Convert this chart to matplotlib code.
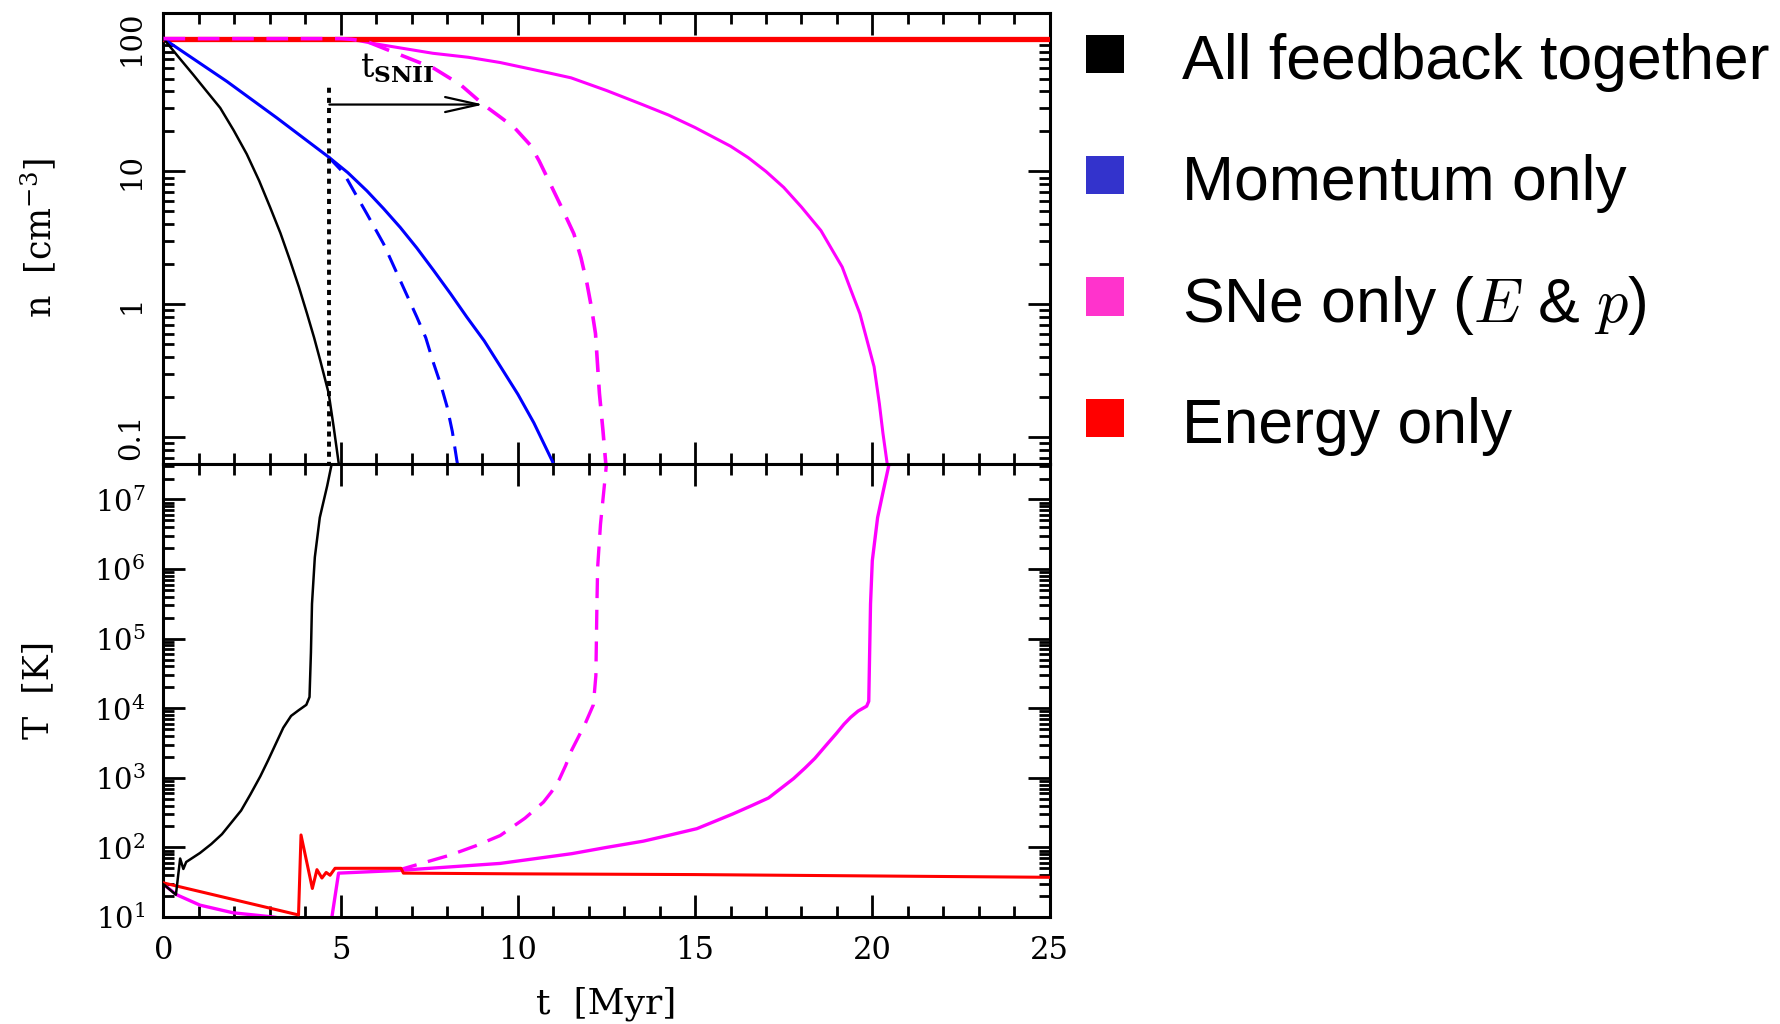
#!/usr/bin/env python3
"""
Density and temperature evolution of a gas cloud for different feedback runs
(top: n, bottom: T), with a colour-square legend on the right.
"""
import matplotlib
matplotlib.use('Agg')
import matplotlib.pyplot as plt
from matplotlib.patches import Rectangle
from matplotlib.ticker import MultipleLocator, LogLocator, NullFormatter
import numpy as np

plt.rcParams['font.family'] = 'DejaVu Serif'
plt.rcParams['mathtext.fontset'] = 'dejavuserif'

# ============================================================================
# Data: density n [cm^-3] vs time [Myr]
# ============================================================================
t_all_n = [0, 0.4, 0.84, 1.2, 1.6, 1.98, 2.35, 2.7, 3.01, 3.3, 3.57, 3.82, 4.05, 4.25, 4.42,
           4.66, 4.80, 4.94, 4.97]
n_all = [100, 74, 53.5, 40.7, 30.1, 20.4, 13.5, 8.5, 5.36, 3.43, 2.14, 1.35, 0.85, 0.56, 0.38,
         0.214, 0.12, 0.0646, 0.056]

t_mom_n = [0, 1.79, 3.2, 4.65, 5.2, 5.74, 6.21, 6.68, 7.15, 7.62, 8.1, 8.56, 9.05, 9.51, 10.0,
           10.45, 10.97, 11.03]
n_mom = [100, 47.6, 25.3, 12.9, 9.8, 7.14, 5.25, 3.79, 2.65, 1.80, 1.20, 0.80, 0.53, 0.339,
         0.21, 0.128, 0.066, 0.060]

t_mom_n_dash = [4.65, 5.08, 5.4, 5.74, 6.21, 6.68, 7.15, 7.4, 7.62, 7.82, 8.0, 8.15, 8.28, 8.31]
n_mom_dash = [12.9, 9.77, 6.9, 4.79, 2.85, 1.51, 0.80, 0.56, 0.36, 0.25, 0.17, 0.11, 0.066, 0.060]

t_sne_n = [0, 5.0, 5.5, 6.0, 7.6, 8.6, 9.5, 10.9, 11.5, 12.5, 13.5, 14.25, 15.0, 16.0, 16.5,
           17.0, 17.5, 18.0, 18.55, 18.9, 19.15, 19.4, 19.65, 19.85, 20.05, 20.2, 20.3, 20.42, 20.45]
n_sne = [100, 100, 96.6, 91.2, 77.6, 72.4, 66.1, 55.0, 50.7, 40.7, 32.0, 26.6, 21.4, 15.5, 12.7,
         10.0, 7.59, 5.4, 3.59, 2.48, 1.91, 1.27, 0.85, 0.537, 0.339, 0.178, 0.107, 0.063, 0.056]

t_sne_n_dash = [0, 5.0, 5.3, 5.74, 6.68, 7.62, 8.38, 9.03, 9.45, 9.9, 10.35, 10.6, 10.92, 11.25,
                11.58, 11.78, 11.95, 12.08, 12.19, 12.3, 12.4, 12.48, 12.5]
n_sne_dash = [100, 100, 98.9, 95.1, 75.5, 60.0, 45.0, 31.8, 26.3, 21.4, 15.8, 12.0, 8.0, 5.25,
              3.39, 2.24, 1.43, 0.93, 0.60, 0.214, 0.112, 0.063, 0.056]

t_energy_n = [0, 25]
n_energy = [100, 100]

# ============================================================================
# Data: temperature T [K] vs time [Myr]
# ============================================================================
t_all_T = [0, 0.35, 0.47, 0.56, 0.64, 1.03, 1.35, 1.65, 2.19, 2.45, 2.73, 2.95, 3.16, 3.38,
           3.6, 3.81, 4.03, 4.12, 4.16, 4.19, 4.27, 4.41, 4.62, 4.77]
T_all = [29.5, 20.9, 69.2, 49.0, 61.7, 83.2, 112, 155, 339, 575, 1047, 1778, 3020, 5250,
         7760, 9330, 11200, 14500, 63100, 3.16e5, 1.48e6, 5.5e6, 1.58e7, 3.72e7]

t_sne_T = [0, 0.37, 1.03, 1.96, 3.1, 3.6, 4.74, 4.94, 6.68, 9.5, 11.52, 12.5, 13.54, 14.3,
           15.05, 16.06, 16.55, 17.07, 17.45, 17.78, 18.1, 18.38, 18.7, 18.99, 19.2, 19.39,
           19.6, 19.84, 19.9, 19.95, 20.0, 20.15, 20.3, 20.5]
T_sne = [29.5, 20.9, 14.8, 11.5, 10.0, 9.1, 9.1, 42.7, 46.8, 58.9, 81.3, 100, 123, 151,
         186, 302, 389, 513, 724, 977, 1380, 1905, 2951, 4365, 5888, 7413,
         9120, 10700, 12600, 3.16e5, 1.32e6, 5.5e6, 1.26e7, 3.72e7]

t_sne_T_dash = [6.6, 8.09, 8.8, 9.5, 10.2, 10.72, 10.95, 11.17, 11.35, 11.52, 11.72, 11.9,
                12.13, 12.2, 12.23, 12.25, 12.33, 12.48, 12.51]
T_sne_dash = [46.8, 77.6, 105, 148, 263, 447, 631, 955, 1514, 2512, 3981, 6026,
              11220, 29510, 3.16e5, 1.05e6, 4.37e6, 2.57e7, 3.72e7]

t_energy_T = [0, 3.81, 3.88, 4.2, 4.33, 4.47, 4.59, 4.70, 4.84, 6.7, 6.77, 10, 15, 20, 25]
T_energy = [30.9, 10.7, 151, 25.7, 47.9, 36.3, 43.7, 39.8, 50.1, 50.1, 42.7, 41.7, 40.7, 38.9, 37.2]

# SN II onset marker
t_snii = 4.68

# Legend
legend_labels = ['All feedback together', 'Momentum only',
                 r'SNe only ($E$ & $p$)', 'Energy only']
legend_colors = ['#000000', '#3333CC', '#FF33CC', '#FF0000']

# ============================================================================
# Figure layout (pixel based)
# ============================================================================
W, H = 1781, 1024
fig = plt.figure(figsize=(W / 100, H / 100), dpi=100)


def fx(px):
    return px / W


def fy(py):
    return 1 - py / H


left, right = 163.5, 1049.5
ax_n = fig.add_axes([fx(left), fy(464), fx(right) - fx(left), fy(13) - fy(464)])
ax_T = fig.add_axes([fx(left), fy(917), fx(right) - fx(left), fy(464) - fy(917)])

for ax in (ax_n, ax_T):
    ax.set_xlim(0, 25)
    ax.set_yscale('log')
    ax.xaxis.set_major_locator(MultipleLocator(5))
    ax.xaxis.set_minor_locator(MultipleLocator(1))
    ax.yaxis.set_minor_locator(LogLocator(base=10, subs=np.arange(2, 10), numticks=30))
    ax.yaxis.set_minor_formatter(NullFormatter())
    ax.tick_params(which='both', direction='in', top=True, right=True, width=2)
    ax.tick_params(which='major', length=16)
    ax.tick_params(which='minor', length=8)
    for s in ax.spines.values():
        s.set_linewidth(2.2)

dash = (6, 3.5)

# ---- density panel ----
ax_n.plot(t_sne_n, n_sne, color='#FF00FF', lw=2.2, zorder=2)
ax_n.plot(t_energy_n, n_energy, color='#FF0000', lw=3.8, zorder=3)
ax_n.plot(t_sne_n_dash, n_sne_dash, color='#FF00FF', lw=2.6, dashes=dash, zorder=4)
ax_n.plot(t_mom_n, n_mom, color='#0000FF', lw=2.2, zorder=3)
ax_n.plot(t_mom_n_dash, n_mom_dash, color='#0000FF', lw=2.2, dashes=dash, zorder=3)
ax_n.plot(t_all_n, n_all, color='black', lw=1.8, zorder=3)

ax_n.set_ylim(0.0627, 156)
ax_n.set_yticks([0.1, 1, 10, 100], labels=['0.1', '1', '10', '100'])
ax_n.tick_params(axis='y', which='major', labelsize=21, pad=13, labelrotation=90)
for lbl in ax_n.get_yticklabels():
    lbl.set_va('center')
ax_n.tick_params(axis='x', labelbottom=False)

# t_SNII marker: dotted line plus arrow
ax_n.vlines(t_snii, 0.05, 46.3, colors='black', lw=2.8, linestyles=(0, (1.3, 1.3)), zorder=5)
ax_n.annotate('', xy=(9.03, 31.9), xytext=(t_snii, 31.9),
              arrowprops=dict(arrowstyle='->,head_length=1.2,head_width=0.27',
                              lw=1.6, color='black', mutation_scale=20,
                              shrinkA=0, shrinkB=0))
ax_n.text(5.55, 50.7, r'$\mathrm{t}_{\mathbf{SNII}}$', fontsize=24, va='baseline', ha='left')

# ---- temperature panel ----
ax_T.plot(t_sne_T, T_sne, color='#FF00FF', lw=2.4, zorder=2)
ax_T.plot(t_sne_T_dash, T_sne_dash, color='#FF00FF', lw=2.4, dashes=dash, zorder=2)
ax_T.plot(t_energy_T, T_energy, color='#FF0000', lw=2.2, zorder=3)
ax_T.plot(t_all_T, T_all, color='black', lw=1.8, zorder=3)

ax_T.set_ylim(10, 10 ** 7.51)
ax_T.yaxis.set_major_locator(LogLocator(base=10, numticks=20))
ax_T.tick_params(axis='y', which='major', labelsize=21, pad=13)
ax_T.tick_params(axis='x', which='major', labelsize=22, pad=13)

# axis labels
fig.text(fx(38), fy(238), r'n  [cm$^{-3}$]', rotation=90, ha='center', va='center', fontsize=25)
fig.text(fx(38), fy(690), 'T  [K]', rotation=90, ha='center', va='center', fontsize=25)
fig.text(fx(606), fy(1004), 't  [Myr]', ha='center', va='center', fontsize=26)

# ============================================================================
# Legend (coloured squares + text)
# ============================================================================
baselines = [79.3, 200, 321.7, 443.3]
for label, color, base in zip(legend_labels, legend_colors, baselines):
    sq = Rectangle((fx(1086), fy(base - 6)), fx(38), 38.5 / H,
                   transform=fig.transFigure, color=color, lw=0)
    fig.add_artist(sq)
    fig.text(fx(1182), fy(base), label, fontsize=45, va='baseline', ha='left',
             family='Liberation Sans', math_fontfamily='cm')

plt.savefig('out.png', dpi=100)
print("[OK] saved out.png")
